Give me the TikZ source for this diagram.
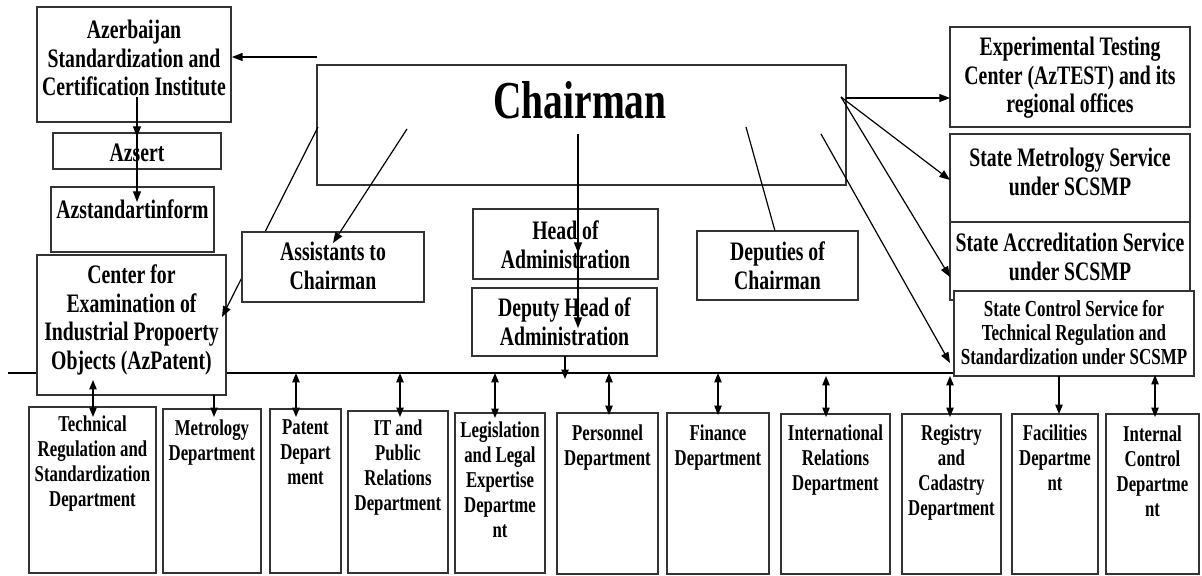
\documentclass[tikz,border=0pt]{standalone}
\usepackage{fontspec}
\setmainfont{Liberation Serif}[FakeStretch=0.74]
\usetikzlibrary{arrows.meta,fit}
\begin{document}
\begin{tikzpicture}[x=0.75pt,y=-0.75pt,
  box/.style={draw=black!80, line width=1.3pt, fill=white, inner sep=0pt},
  txt/.style={align=center, inner sep=0pt, font=\fontsize{20}{21.5}\selectfont\bfseries},
  dtxt/.style={align=center, inner sep=0pt, anchor=north, font=\fontsize{17}{18.75}\selectfont\bfseries},
  ln/.style={line width=0.9pt},
  arr/.style={ln, -{Triangle[length=8pt,width=6pt]}},
  dbl/.style={ln, {Triangle[length=7pt,width=5.5pt]}-{Triangle[length=7pt,width=5.5pt]}},
  sarr/.style={ln, -{Triangle[length=7pt,width=5.5pt]}},
]
\useasboundingbox (0,0) rectangle (1202,575);
\fill[white] (0,0) rectangle (1202,575);

% bus
\coordinate (busL) at (8,373);
\coordinate (busR) at (954,373);
\draw[ln] (busL) -- (busR);

% chairman
\node[box, fit={(317,65)(846,185)}] (chair) {};
\node[font=\fontsize{40}{44}\selectfont\bfseries, inner sep=0pt] (chairT) at (580,100) {Chairman};

% left column
\node[box, fit={(37,7)(231,122)}] (asci) {};
\node[txt] (asciT) at (134,58) {Azerbaijan\\Standardization and\\Certification Institute};
\node[box, fit={(53,133)(221,169)}] (azsert) {};
\node[txt] (azsertT) at (137,153) {Azsert};
\node[box, fit={(51,187)(214,252)}] (azstd) {};
\node[txt] (azstdT) at (132.5,209) {Azstandartinform};
\node[box, fit={(37,255)(226,395)}] (azpat) {};
\node[txt] (azpatT) at (131.5,320) {Center for\\Examination of\\Industrial Propoerty\\Objects (AzPatent)};

% line chairman -> AzPatent (passes behind Assistants box)
\coordinate (s1) at (318,127);
\coordinate (e1) at (222,317);
\draw[arr] (s1) -- (e1);

% middle boxes
\node[box, fit={(242,232)(424,302)}] (assist) {};
\node[txt] (assistT) at (333,266) {Assistants to\\Chairman};
\node[box, fit={(473,209)(658,279)}] (head) {};
\node[txt] (headT) at (565.5,245) {Head of\\Administration};
\node[box, fit={(472,288)(657,356)}] (dhead) {};
\node[txt] (dheadT) at (564.5,322) {Deputy Head of\\Administration};
\node[box, fit={(697,231)(858,300)}] (deput) {};
\node[txt] (deputT) at (777.5,266) {Deputies of\\Chairman};

% right column
\node[box, fit={(950,27)(1190,127)}] (aztest) {};
\node[txt] (aztestT) at (1070,78) {Experimental Testing\\Center (AzTEST) and its\\regional offices};
\node[box, fit={(950,134)(1190,222)}] (smet) {};
\node[txt] (smetT) at (1070,172) {State Metrology Service\\under SCSMP};
\node[box, fit={(950,222)(1190,300)}] (sacc) {};
\node[txt] (saccT) at (1070,257) {State Accreditation Service\\under SCSMP};
\node[box, fit={(954,291)(1194,376)}] (sctl) {};
\node[align=center, inner sep=0pt, font=\fontsize{17.2}{18}\selectfont\bfseries] (sctlT) at (1074,333) {State Control Service for\\Technical Regulation and\\Standardization under SCSMP};

% connectors from chairman
\coordinate (chL) at (317,57);
\draw[arr] (chL) -- (chL -| asci.east);
\coordinate (a0) at (137,97);
\coordinate (a1) at (137,137);
\coordinate (a2) at (137,202);
\draw[arr] (a0) -- (a2);
\draw[arr] (a0) -- (a1);

\coordinate (s2) at (407,129);
\coordinate (e2) at (333,243);
\draw[arr] (s2) -- (e2);

\coordinate (s3) at (578,134);
\coordinate (e3a) at (578,253);
\coordinate (e3b) at (578,328);
\draw[arr] (s3) -- (e3b);
\draw[arr] (s3) -- (e3a);

\coordinate (s4) at (746,127);
\coordinate (e4) at (775,231);
\draw[ln] (s4) -- (e4);

\coordinate (s5) at (821,134);
\coordinate (e5) at (950,363);
\draw[arr] (s5) -- (e5);

\coordinate (chR) at (841,97);
\coordinate (chRe) at (846,98);
\coordinate (eT) at (950,98);
\coordinate (eM) at (950,180);
\coordinate (eA) at (950,277);
\draw[arr] (chRe) -- (eT);
\draw[arr] (chR) -- (eM);
\draw[arr] (chR) -- (eA);

\coordinate (dh) at (565,356);
\coordinate (dhe) at (565,379);
\draw[sarr] (dh) -- (dhe);

% departments
\node[box, fit={(29,407)(156,573)}] (d1) {};
\node[dtxt] (d1T) at (92.5,415) {Technical\\Regulation and\\Standardization\\Department};
\node[box, fit={(163,409)(261,573)}] (d2) {};
\node[dtxt] (d2T) at (212,419) {Metrology\\Department};
\node[box, fit={(270,409)(341,573)}] (d3) {};
\node[dtxt] (d3T) at (305.5,419) {Patent\\Depart\\ment};
\node[box, fit={(348,411)(448,573)}] (d4) {};
\node[dtxt] (d4T) at (398,419) {IT and\\Public\\Relations\\Department};
\node[box, fit={(455,413)(545,573)}] (d5) {};
\node[dtxt] (d5T) at (500,421) {Legislation\\and Legal\\Expertise\\Departme\\nt};
\node[box, fit={(557,413)(658,574)}] (d6) {};
\node[dtxt] (d6T) at (607.5,424) {Personnel\\Department};
\node[box, fit={(667,413)(769,574)}] (d7) {};
\node[dtxt] (d7T) at (718,424) {Finance\\Department};
\node[box, fit={(781,414)(890,574)}] (d8) {};
\node[dtxt] (d8T) at (835.5,424) {International\\Relations\\Department};
\node[box, fit={(902,414)(1001,574)}] (d9) {};
\node[dtxt] (d9T) at (951.5,424) {Registry\\and\\Cadastry\\Department};
\node[box, fit={(1012,414)(1098,574)}] (d10) {};
\node[dtxt] (d10T) at (1055,424) {Facilities\\Departme\\nt};
\node[box, fit={(1106,414)(1199,574)}] (d11) {};
\node[dtxt] (d11T) at (1152.5,425) {Internal\\Control\\Departme\\nt};

% department connectors
\coordinate (t1) at (93,380);   \coordinate (b1) at (93,417);
\coordinate (t2) at (214,395);  \coordinate (b2) at (214,417);
\coordinate (t3) at (296,373);  \coordinate (b3) at (296,417);
\coordinate (t4) at (400,373);  \coordinate (b4) at (400,417);
\coordinate (t5) at (495,373);  \coordinate (b5) at (495,418);
\coordinate (t6) at (609,373);  \coordinate (b6) at (609,415);
\coordinate (t7) at (718,373);  \coordinate (b7) at (718,415);
\coordinate (t8) at (826,376);  \coordinate (b8) at (826,417);
\coordinate (t9) at (950,376);  \coordinate (b9) at (950,417);
\coordinate (t10) at (1059,376); \coordinate (b10) at (1059,414);
\coordinate (t11) at (1155,375); \coordinate (b11) at (1155,417);
\draw[dbl] (t1) -- (b1);
\draw[sarr] (t2) -- (b2);
\draw[dbl] (t3) -- (b3);
\draw[dbl] (t4) -- (b4);
\draw[dbl] (t5) -- (b5);
\draw[dbl] (t6) -- (b6);
\draw[dbl] (t7) -- (b7);
\draw[dbl] (t8) -- (b8);
\draw[dbl] (t9) -- (b9);
\draw[sarr] (t10) -- (b10);
\draw[dbl] (t11) -- (b11);
\end{tikzpicture}
\end{document}
